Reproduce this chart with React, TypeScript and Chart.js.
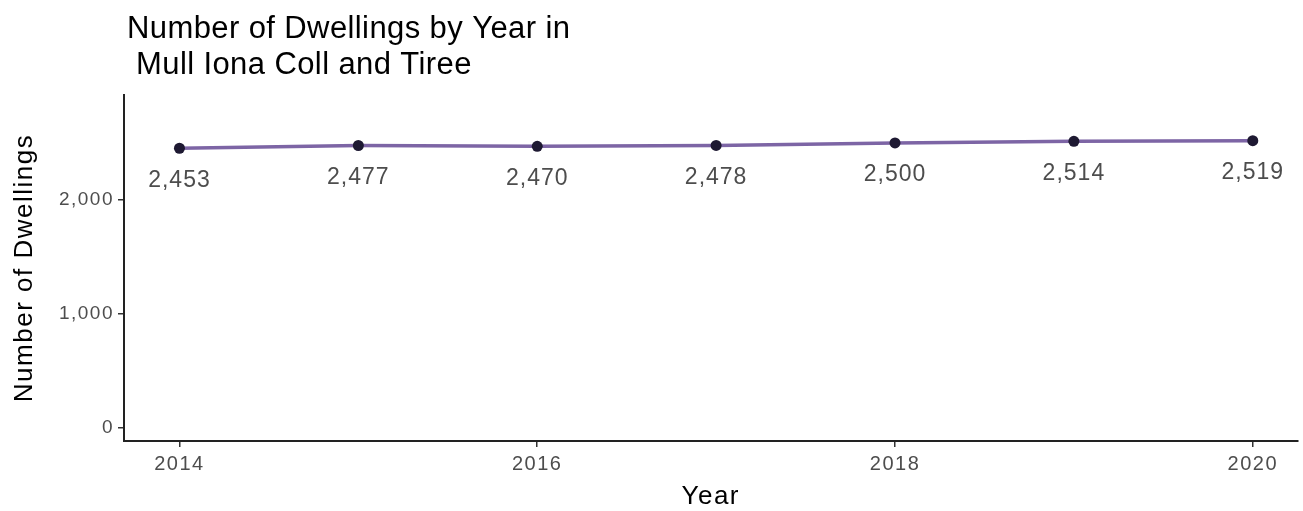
import React, { useEffect, useRef } from "react";
import { Chart, registerables } from "chart.js";

Chart.register(...registerables);

const years = [2014, 2015, 2016, 2017, 2018, 2019, 2020];
const dwellings = [2453, 2477, 2470, 2478, 2500, 2514, 2519];
const yTicks = [0, 1000, 2000];
const xTicks = [2014, 2016, 2018, 2020];
const titleLines = ["Number of Dwellings by Year in", " Mull Iona Coll and Tiree"];
const xTitle = "Year";
const yTitle = "Number of Dwellings";

const FONT = "'Liberation Sans', Arial, Helvetica, sans-serif";
const fmt = (v: number) => v.toLocaleString("en-US");

export default function App() {
  const ref = useRef<HTMLCanvasElement | null>(null);
  useEffect(() => {
    if (!ref.current) return;
    const overlay = {
      id: "overlay",
      beforeDraw(chart: any) {
        chart.ctx.letterSpacing = "1.5px";
      },
      afterDraw(chart: any) {
        const ctx = chart.ctx;
        const area = chart.chartArea;
        ctx.save();
        // title
        ctx.letterSpacing = "0.4px";
        ctx.fillStyle = "#000000";
        ctx.font = `31px ${FONT}`;
        ctx.textAlign = "left";
        ctx.textBaseline = "alphabetic";
        ctx.fillText(titleLines[0], 127, 38);
        ctx.fillText(titleLines[1], 127, 74);
        // axis titles
        ctx.letterSpacing = "1.5px";
        ctx.font = `26px ${FONT}`;
        ctx.textAlign = "center";
        ctx.textBaseline = "middle";
        ctx.fillText(xTitle, (area.left + area.right) / 2, 497);
        ctx.save();
        ctx.translate(25, (area.top + area.bottom) / 2);
        ctx.rotate(-Math.PI / 2);
        ctx.fillText(yTitle, 0, 0);
        ctx.restore();
        // data labels
        const meta = chart.getDatasetMeta(0);
        ctx.letterSpacing = "1px";
        ctx.font = `23px ${FONT}`;
        ctx.fillStyle = "#4d4d4d";
        meta.data.forEach((pt: any, i: number) => {
          ctx.fillText(fmt(dwellings[i]), pt.x, pt.y + 32);
        });
        ctx.restore();
        ctx.letterSpacing = "0px";
      },
    };
    const chart = new Chart(ref.current, {
      type: "line",
      data: {
        datasets: [
          {
            data: years.map((y, i) => ({ x: y, y: dwellings[i] })),
            borderColor: "#7d65a5",
            borderWidth: 3.5,
            pointBackgroundColor: "#1e1932",
            pointBorderColor: "#1e1932",
            pointRadius: 5.5,
            pointBorderWidth: 0,
            tension: 0,
          },
        ],
      },
      options: {
        responsive: false,
        animation: false,
        layout: { padding: { top: 95, right: 3, left: 0, bottom: 0 } },
        plugins: {
          legend: { display: false },
          tooltip: { enabled: false },
          title: { display: false },
        },
        scales: {
          x: {
            type: "linear",
            min: 2013.69,
            max: 2020.25,
            afterBuildTicks: (s: any) => {
              s.ticks = xTicks.map((v) => ({ value: v }));
            },
            afterFit: (s: any) => {
              s.height = 70;
            },
            ticks: {
              callback: (v: any) => String(v),
              color: "#4d4d4d",
              font: { family: FONT, size: 20 },
              padding: 5,
              maxRotation: 0,
              autoSkip: false,
            },
            grid: { drawOnChartArea: false, tickLength: 6, color: "#333333", lineWidth: 1.5 },
            border: { display: true, color: "#222222", width: 2 },
          },
          y: {
            type: "linear",
            min: -115,
            max: 2920,
            afterBuildTicks: (s: any) => {
              s.ticks = yTicks.map((v) => ({ value: v }));
            },
            afterFit: (s: any) => {
              s.width = 124;
            },
            ticks: {
              callback: (v: any) => fmt(Number(v)),
              color: "#4d4d4d",
              font: { family: FONT, size: 19 },
              padding: 4,
            },
            grid: { drawOnChartArea: false, tickLength: 6, color: "#333333", lineWidth: 1.5 },
            border: { display: true, color: "#222222", width: 2 },
          },
        },
      },
      plugins: [overlay],
    });
    return () => chart.destroy();
  }, []);
  return (
    <div style={{ position: "absolute", left: 0, top: 0, width: 1303, height: 511, background: "#fff" }}>
      <canvas ref={ref} width={1303} height={511} style={{ width: 1303, height: 511 }} />
    </div>
  );
}
